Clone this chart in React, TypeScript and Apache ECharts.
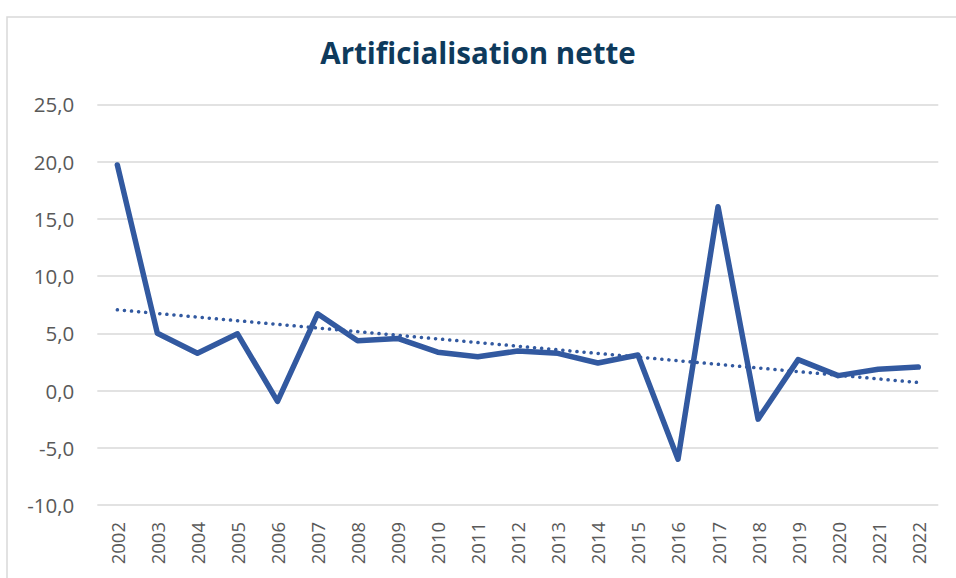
import React, { useEffect, useRef } from "react";
import * as echarts from "echarts";

const years = ["2002","2003","2004","2005","2006","2007","2008","2009","2010","2011","2012","2013","2014","2015","2016","2017","2018","2019","2020","2021","2022"];
const values = [19.7, 5.0, 3.25, 4.95, -0.95, 6.7, 4.35, 4.55, 3.35, 2.95, 3.45, 3.25, 2.4, 3.1, -6.0, 16.05, -2.5, 2.7, 1.3, 1.85, 2.05];
// trend line endpoints (2002 and 2022)
const trendStart = 7.05;
const trendEnd = 0.7;
const trend = years.map((_, i) => (i === 0 ? trendStart : i === years.length - 1 ? trendEnd : null));

const LINE = "#3259A0";
const LABEL = "#595959";

export default function App() {
  const ref = useRef<HTMLDivElement>(null);
  useEffect(() => {
    if (!ref.current) return;
    const chart = echarts.init(ref.current, null, { renderer: "svg" });
    chart.setOption({
      animation: false,
      backgroundColor: "#ffffff",
      title: {
        text: "Artificialisation nette",
        left: "center",
        top: 32,
        textStyle: {
          fontFamily: "'Open Sans', sans-serif",
          fontWeight: "bold",
          fontSize: 29.5,
          color: "#0E3A5C",
        },
      },
      graphic: [
        {
          type: "rect",
          shape: { x: 7, y: 17, width: 980, height: 600 },
          style: { fill: "none", stroke: "#d9d9d9", lineWidth: 1.5 },
          silent: true,
          z: -1,
        },
      ],
      grid: { left: 97.3, right: 17.7, top: 104.3, bottom: 73 },
      xAxis: {
        type: "category",
        data: years,
        boundaryGap: true,
        axisLine: { show: false },
        axisTick: { show: false },
        axisLabel: {
          rotate: 90,
          margin: 17,
          color: LABEL,
          fontSize: 18.5,
          fontFamily: "'Open Sans', 'Noto Sans', sans-serif",
          interval: 0,
        },
      },
      yAxis: {
        type: "value",
        min: -10,
        max: 25,
        interval: 5,
        axisLine: { show: false },
        axisTick: { show: false },
        axisLabel: {
          margin: 23,
          color: LABEL,
          fontSize: 20.5,
          fontFamily: "'Open Sans', 'Noto Sans', sans-serif",
          formatter: (v: number) => v.toFixed(1).replace(".", ","),
        },
        splitLine: { lineStyle: { color: "#d9d9d9", width: 1.5 } },
      },
      series: [
        {
          type: "line",
          data: values,
          symbol: "none",
          lineStyle: { color: LINE, width: 5.5, join: "round", cap: "round" },
          z: 3,
        },
        {
          type: "line",
          data: trend,
          connectNulls: true,
          symbol: "none",
          lineStyle: { color: LINE, width: 3.5, type: [0.1, 7], cap: "round" },
          z: 2,
        },
      ],
    });
    return () => chart.dispose();
  }, []);
  return (
    <div
      ref={ref}
      style={{ position: "fixed", left: 0, top: 0, width: 956, height: 578 }}
    />
  );
}
